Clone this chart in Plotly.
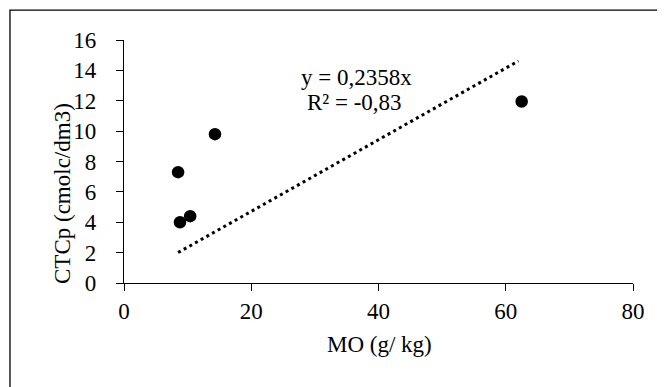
import plotly.graph_objects as go

mo = [8.5, 8.8, 10.4, 14.3, 62.5]
ctc = [7.3, 4.0, 4.4, 9.8, 11.95]
slope = 0.2358
eq_line1 = "y = 0,2358x"
eq_line2 = "R² = -0,83"
x_title = "MO (g/ kg)"
y_title = "CTCp (cmolc/dm3)"
x_ticks = [0, 20, 40, 60, 80]
y_ticks = [0, 2, 4, 6, 8, 10, 12, 14, 16]

tx = [min(mo), 62.0]
ty = [slope * v for v in tx]

FONT = "Liberation Serif, Times New Roman, serif"
FS = 23

fig = go.Figure()
fig.add_trace(go.Scatter(x=tx, y=ty, mode="lines",
                         line=dict(color="black", width=3, dash="3px,3.5px"),
                         showlegend=False, hoverinfo="skip"))
fig.add_trace(go.Scatter(x=mo, y=ctc, mode="markers",
                         marker=dict(color="black", size=12.5),
                         showlegend=False))

fig.add_annotation(x=36.5, y=13.5, xref="x", yref="y", text=eq_line1,
                   showarrow=False, font=dict(family=FONT, size=FS, color="black"))
fig.add_annotation(x=36.3, y=11.9, xref="x", yref="y", text=eq_line2,
                   showarrow=False, font=dict(family=FONT, size=FS, color="black"))

fig.add_annotation(x=0.501, y=-0.255, xref="paper", yref="paper", text=x_title,
                   showarrow=False, xanchor="center", yanchor="middle",
                   font=dict(family=FONT, size=FS, color="black"))
fig.add_annotation(x=-0.122, y=0.37, xref="paper", yref="paper", text=y_title,
                   showarrow=False, xanchor="center", yanchor="middle", textangle=-90,
                   font=dict(family=FONT, size=FS, color="black"))

fig.add_shape(type="rect", xref="paper", yref="paper",
              x0=-0.224, x1=1.051, y0=-0.5, y1=1.123,
              line=dict(color="black", width=1.3), fillcolor="rgba(0,0,0,0)")

fig.update_xaxes(range=[0, 80], tickvals=x_ticks, showgrid=False, zeroline=False,
                 showline=True, linecolor="black", linewidth=1.3,
                 ticks="outside", ticklen=7, tickcolor="black", tickwidth=1.3,
                 tickfont=dict(family=FONT, size=FS, color="black"))
fig.update_yaxes(range=[0, 16], tickvals=y_ticks, showgrid=False, zeroline=False,
                 showline=True, linecolor="black", linewidth=1.3,
                 ticks="outside", ticklen=7, tickcolor="black", tickwidth=1.3,
                 ticklabelstandoff=15,
                 tickfont=dict(family=FONT, size=FS, color="black"))

fig.update_layout(width=657, height=379, margin=dict(l=116, r=32, t=32, b=104),
                  paper_bgcolor="white", plot_bgcolor="white")
fig.write_html("out.html")
